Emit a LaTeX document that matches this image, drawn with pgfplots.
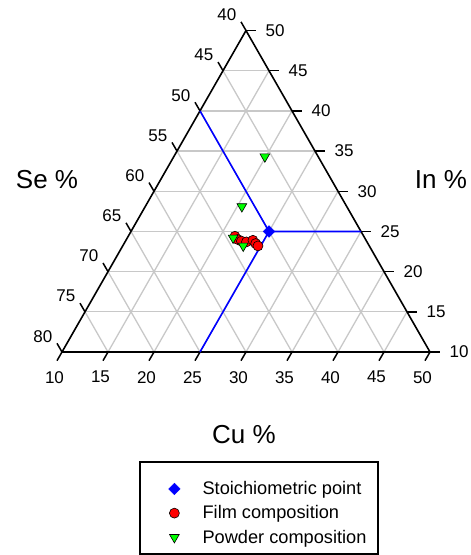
\documentclass[border=0pt]{standalone}
\usepackage{pgfplots}
\usepackage{pgfplotstable}
\pgfplotsset{compat=1.18}
\usepackage{fontspec}
\setmainfont{Liberation Sans}
\definecolor{gridc}{RGB}{200,200,200}
\newcommand\tk{\fontsize{17}{20}\selectfont}
\pgfplotstableread{
Cu In
25 25
}\stoich
\pgfplotstableread{
Cu In
21.6 24.4
22.1 24.0
22.6 23.8
23.2 23.7
23.8 23.9
24.3 23.5
24.7 23.2
}\film
\pgfplotstableread{
Cu In
19.9 34.3
20.5 28.1
21.5 24.2
23.1 23.2
}\powder
\begin{document}
\begin{tikzpicture}
\useasboundingbox (-62pt,-203pt) rectangle (409pt,352pt);
\begin{scope}[x=9.2pt,y=9.28pt]
  \foreach \v in {15,20,...,45}{
    \draw[gridc,line width=1.3pt] ({\v-10},0) -- ({\v-10+(50-\v)/2},{(50-\v)*0.8660254});
    \draw[gridc,line width=1.3pt] ({(\v-10)/2},{(\v-10)*0.8660254}) -- ({50-\v+(\v-10)/2},{(\v-10)*0.8660254});
  }
  \foreach \s in {45,50,...,75}{
    \draw[gridc,line width=1.3pt] ({(80-\s)/2},{(80-\s)*0.8660254}) -- ({80-\s},0);
  }
  \draw[black,line width=1.6pt,line join=round] (0,0) -- (40,0) -- (20,34.641016) -- cycle;
  \foreach \v in {10,15,...,50}{
    \pgfmathsetmacro\bx{\v-10}
    \pgfmathsetmacro\rx{50-\v+(\v-10)/2}
    \pgfmathsetmacro\ry{(\v-10)*0.8660254}
    \draw[line width=1.5pt] (\bx,0) -- ++(-5pt,-8.66pt);
    \node[anchor=north,inner sep=0pt,font=\tk] at ([shift={(-7.5pt,-19pt)}]\bx,0) {\v};
    \draw[line width=1.5pt] (\rx,\ry) -- ++(10pt,0pt);
    \node[anchor=west,inner sep=0pt,font=\tk] at ([shift={(19.5pt,0pt)}]\rx,\ry) {\v};
  }
  \foreach \s in {40,45,...,80}{
    \pgfmathsetmacro\lx{(80-\s)/2}
    \pgfmathsetmacro\ly{(80-\s)*0.8660254}
    \draw[line width=1.5pt] (\lx,\ly) -- ++(-5pt,8.66pt);
    \node[anchor=south east,inner sep=0pt,font=\tk] at ([shift={(-9.5pt,9.5pt)}]\lx,\ly) {\s};
  }
  \node[font=\fontsize{26}{30}\selectfont] at (-15pt,172pt) {Se \%};
  \node[font=\fontsize{26}{30}\selectfont] at (379pt,172pt) {In \%};
  \node[font=\fontsize{26}{30}\selectfont] at (182pt,-83pt) {Cu \%};
\end{scope}
\begin{axis}[
  at={(0pt,0pt)}, anchor=origin,
  x=9.2pt, y=9.28pt,
  xmin=0, xmax=40, ymin=0, ymax=34.641016,
  hide axis, clip=false,
  legend style={at={(axis description cs:0.2201,-0.3963)}, anchor=north west, draw=none, fill=none,
    inner xsep=11pt, inner ysep=0pt, row sep=5.5pt, nodes={inner sep=2pt},
    font=\fontsize{18.2}{21}\selectfont},
  legend cell align=left,
  legend image code/.code={\path (0pt,0pt) (46pt,0pt); \draw[#1] plot coordinates {(20pt,0pt)};},
]
\addplot[blue, line width=1.6pt, forget plot] table[x expr={\thisrow{Cu}-10+(\thisrow{In}-10)/2}, y expr={(\thisrow{In}-10)*0.8660254}] {
Cu In
25 10
25 25
35 25
};
\addplot[blue, line width=1.6pt, forget plot] table[x expr={\thisrow{Cu}-10+(\thisrow{In}-10)/2}, y expr={(\thisrow{In}-10)*0.8660254}] {
Cu In
25 25
10 40
};
\addplot[only marks, mark=square*, mark size=4.1pt, mark options={rotate=45, draw=blue, fill=blue}]
  table[x expr={\thisrow{Cu}-10+(\thisrow{In}-10)/2}, y expr={(\thisrow{In}-10)*0.8660254}] {\stoich};
\addlegendentry{Stoichiometric point}
\addplot[only marks, mark=*, mark size=5pt, mark options={draw=black, fill=red, line width=0.6pt}]
  table[x expr={\thisrow{Cu}-10+(\thisrow{In}-10)/2}, y expr={(\thisrow{In}-10)*0.8660254}] {\film};
\addlegendentry{Film composition}
\addplot[only marks, mark=triangle*, mark size=5.6pt, mark options={rotate=180, draw=black, fill=green, line width=0.6pt}]
  table[x expr={\thisrow{Cu}-10+(\thisrow{In}-10)/2}, y expr={(\thisrow{In}-10)*0.8660254}] {\powder};
\addlegendentry{Powder composition}
\end{axis}
\draw[line width=1.2pt] (78pt,-110pt) rectangle (316pt,-202pt);
\end{tikzpicture}
\end{document}
